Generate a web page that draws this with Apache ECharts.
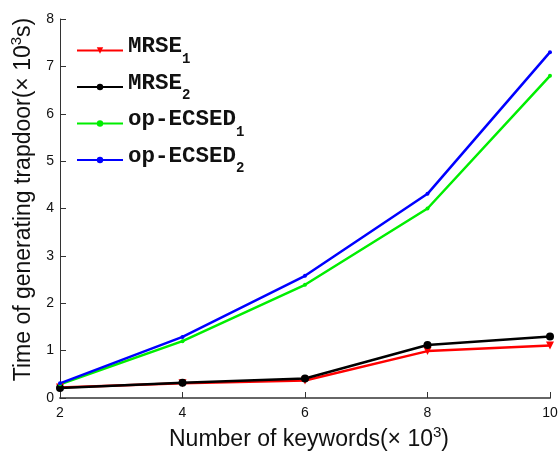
<!DOCTYPE html>
<html><head><meta charset="utf-8">
<script src="https://cdn.jsdelivr.net/npm/echarts@6/dist/echarts.min.js"></script>
<style>html,body{margin:0;padding:0;background:#fff}#c{width:558px;height:455px}</style>
</head><body><div id="c"></div>
<script>
const keywords = [2, 4, 6, 8, 10];
const mrse1 = [0.22, 0.31, 0.37, 0.99, 1.11];
const mrse2 = [0.21, 0.32, 0.41, 1.12, 1.30];
const opEcsed1 = [0.29, 1.20, 2.39, 4.00, 6.80];
const opEcsed2 = [0.31, 1.29, 2.58, 4.31, 7.30];
const yTicks = [0, 1, 2, 3, 4, 5, 6, 7, 8];

const names = ['MRSE1', 'MRSE2', 'op-ECSED1', 'op-ECSED2'];
const labelMap = {
  'MRSE1': '{m|MRSE}{s|1}', 'MRSE2': '{m|MRSE}{s|2}',
  'op-ECSED1': '{m|op-ECSED}{s|1}', 'op-ECSED2': '{m|op-ECSED}{s|2}'
};
function pts(arr) { return keywords.map((k, i) => [k, arr[i]]); }

const chart = echarts.init(document.getElementById('c'));
const axisColor = '#666';
chart.setOption({
  animation: false,
  grid: { left: 60, right: 8, top: 19, bottom: 57, containLabel: false, outerBoundsMode: 'none' },
  legend: {
    orient: 'vertical', left: 71, top: 30, itemGap: 5.5,
    itemWidth: 46, itemHeight: 8,
    data: names,
    formatter: n => labelMap[n],
    textStyle: {
      rich: {
        m: { fontFamily: 'Liberation Mono', fontWeight: 'bold', fontSize: 22.5, color: '#111', padding: [0, 0, 8, 0], verticalAlign: 'bottom' },
        s: { fontFamily: 'Liberation Mono', fontWeight: 'bold', fontSize: 14, color: '#111', verticalAlign: 'bottom' }
      }
    }
  },
  xAxis: {
    type: 'value', min: 2, max: 10, interval: 2,
    axisLine: { lineStyle: { color: axisColor, width: 2 } },
    axisTick: { inside: true, length: 6, lineStyle: { color: '#333' } },
    splitLine: { show: false },
    axisLabel: { color: '#111', fontFamily: 'Liberation Sans', fontSize: 14, margin: 8,
      formatter: v => String(v) },
    name: '{t|Number of keywords(× 10}{sup|3}{t|)}',
    nameLocation: 'middle', nameGap: 26,
    nameTextStyle: { padding: [0, 0, 0, 8], rich: {
      t: { fontFamily: 'Liberation Sans', fontSize: 23, color: '#111', verticalAlign: 'bottom' },
      sup: { fontFamily: 'Liberation Sans', fontSize: 15, color: '#111', padding: [0, 0, 11, 0], verticalAlign: 'bottom' }
    } }
  },
  yAxis: {
    type: 'value', min: 0, max: 8, interval: 1,
    axisLine: { show: true, lineStyle: { color: '#333', width: 1 } },
    axisTick: { show: true, inside: true, length: 6, lineStyle: { color: '#333' } },
    splitLine: { show: false },
    axisLabel: { color: '#111', fontFamily: 'Liberation Sans', fontSize: 14, margin: 6,
      formatter: v => yTicks.includes(v) ? String(v) : '' },
    name: '{t|Time of generating trapdoor(× 10}{sup|3}{t|s)}',
    nameLocation: 'middle', nameGap: 25, nameRotate: 90,
    nameTextStyle: { padding: [0, 0, 0, 18], rich: {
      t: { fontFamily: 'Liberation Sans', fontSize: 23, color: '#111', verticalAlign: 'bottom' },
      sup: { fontFamily: 'Liberation Sans', fontSize: 15, color: '#111', padding: [0, 0, 11, 0], verticalAlign: 'bottom' }
    } }
  },
  series: [
    { name: 'MRSE1', type: 'line', data: pts(mrse1), color: '#ff0000',
      lineStyle: { width: 2.5 }, symbol: 'triangle', symbolRotate: 180, symbolSize: 8 },
    { name: 'MRSE2', type: 'line', data: pts(mrse2), color: '#000000',
      lineStyle: { width: 2.5 }, symbol: 'circle', symbolSize: 8 },
    { name: 'op-ECSED1', type: 'line', data: pts(opEcsed1), color: '#00ee00',
      lineStyle: { width: 2.5 }, symbol: 'circle', symbolSize: 4 },
    { name: 'op-ECSED2', type: 'line', data: pts(opEcsed2), color: '#0000ff',
      lineStyle: { width: 2.5 }, symbol: 'circle', symbolSize: 4 }
  ]
});
</script></body></html>
